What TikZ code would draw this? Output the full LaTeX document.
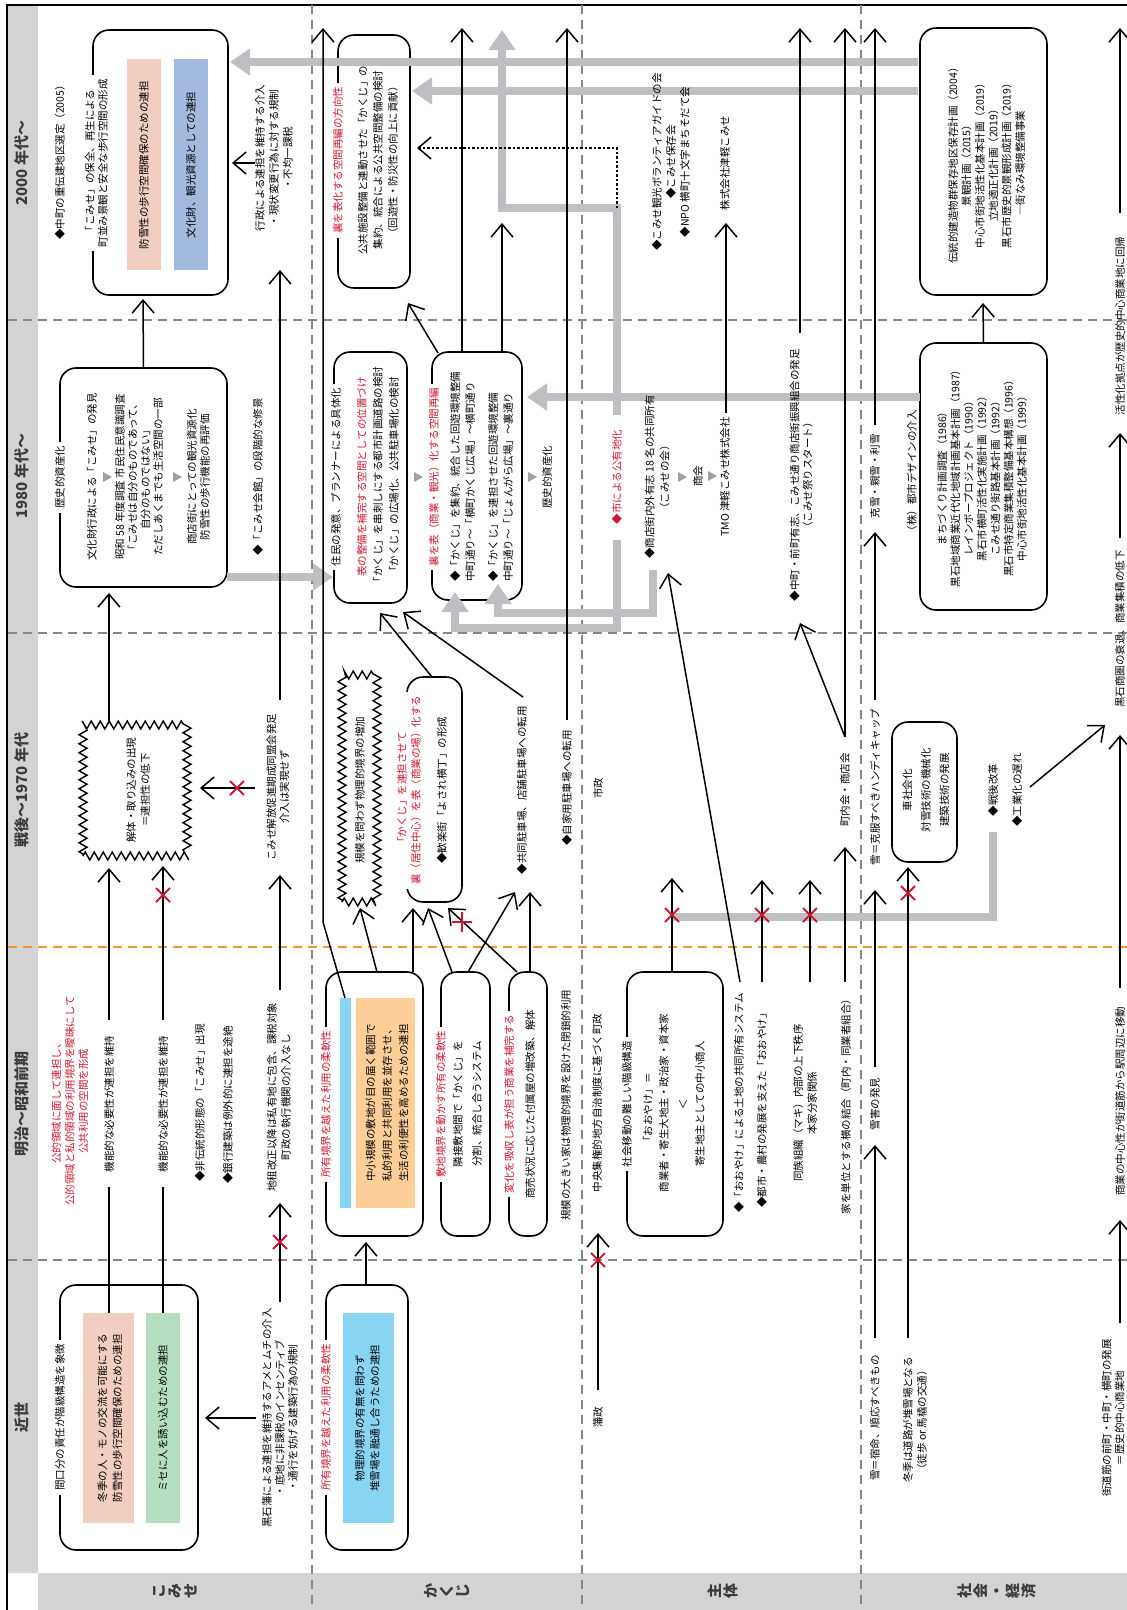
\documentclass[tikz,border=0pt]{standalone}
\usepackage{fontspec}
\setmainfont{Noto Sans CJK JP}
\usetikzlibrary{arrows.meta,decorations.pathmorphing}
\definecolor{kred}{RGB}{206,22,48}
\definecolor{ggray}{RGB}{190,191,194}
\definecolor{hgray}{RGB}{209,211,212}
\definecolor{hdark}{RGB}{60,60,60}
\definecolor{tgray}{RGB}{160,160,162}
\definecolor{kpink}{RGB}{242,206,194}
\definecolor{kgreen}{RGB}{180,222,193}
\definecolor{kblue}{RGB}{163,185,224}
\definecolor{ksky}{RGB}{137,211,243}
\definecolor{korange}{RGB}{253,206,152}
\definecolor{dorange}{RGB}{243,152,40}
\definecolor{dgray}{RGB}{135,135,135}
\tikzset{
  xm/.pic={\draw[kred,line width=1.8pt] (-7,-7)--(7,7) (-7,7)--(7,-7);},
  tri/.pic={\fill[tgray] (-4,-5)--(5,0)--(-4,5)--cycle;}
}
\begin{document}
\begin{tikzpicture}[x=1pt,y=-1pt,
  tx/.style={rotate=90,inner sep=0pt,align=center,font=\fontsize{10.5}{#1}\selectfont},
  tx/.default=13,
  txr/.style={tx=#1,text=kred},
  txr/.default=13,
  btt/.style={tx=#1,fill=white,inner xsep=4pt,inner ysep=2pt},
  btt/.default=13,
  btr/.style={btt=#1,text=kred},
  btr/.default=13,
  bx/.style={draw,line width=1.6pt,rounded corners=16pt,inner sep=0pt},
  zz/.style={draw,line width=1.4pt,inner sep=0pt,decorate,decoration={zigzag,segment length=9pt,amplitude=4pt}},
  arr/.style={line width=1.5pt,-{Straight Barb[length=13pt,width=22pt,line width=1.5pt]}},
  ln/.style={line width=1.5pt},
  garr/.style={line width=8pt,draw=ggray,-{Triangle[length=20pt,width=26pt]}},
  gln/.style={line width=8pt,draw=ggray},
  sep/.style={line width=1.2pt,draw=dgray,dash pattern=on 9pt off 6pt},
  era/.style={rotate=90,inner sep=0pt,font=\fontsize{15}{18}\selectfont\bfseries,text=hdark},
  rowlab/.style={rotate=90,inner sep=0pt,align=center,font=\fontsize{15}{16}\selectfont\bfseries,text=hdark},
]
\useasboundingbox (0,0) rectangle (1127,1610);

% bands and frame
\fill[hgray] (8,5) rectangle (38,1573);
\fill[hgray] (38,1573) rectangle (1127,1610);
\draw[line width=1.5pt] (7,1610) -- (7,5) -- (1127,5);
\foreach \x in {312,582,861} \draw[sep] (\x,5) -- (\x,1610);
\foreach \y in {320,633,1260} \draw[sep] (8,\y) -- (1127,\y);
\draw[sep,draw=dorange] (8,947) -- (1127,947);

% era labels
\node[era] (e1) at (22,163) {2000 年代〜};
\node[era] (e2) at (22,476) {1980 年代〜};
\node[era] (e3) at (22,790) {戦後〜1970 年代};
\node[era] (e4) at (22,1104) {明治〜昭和前期};
\node[era] (e5) at (22,1417) {近世};
% row labels, set as stacked characters
\node[rowlab] (r1) at (175,1591) {こ\\み\\せ};
\node[rowlab] (r2) at (447,1591) {か\\く\\じ};
\node[rowlab] (r3) at (723,1591) {主\\体};
\node[rowlab] (r4) at (997,1591) {社\\会\\・\\経\\済};

% boxes
\node[bx,minimum width=138pt,minimum height=265pt] (kA) at (129,1417.5) {};
\node[bx,minimum width=167pt,minimum height=219pt] (kB) at (143.5,477.5) {};
\node[bx,minimum width=135pt,minimum height=265pt] (kC) at (160.5,162.5) {};
\node[bx,minimum width=82pt,minimum height=265pt] (jA) at (367,1417.5) {};
\node[bx,minimum width=97pt,minimum height=264pt] (jB) at (374.5,1104) {};
\node[bx,minimum width=49pt,minimum height=264pt] (jC) at (465.5,1104) {};
\node[bx,minimum width=38pt,minimum height=264pt] (jD) at (528,1104) {};
\node[bx,minimum width=55pt,minimum height=225pt] (jE) at (434.5,789.5) {};
\node[bx,minimum width=73pt,minimum height=251pt] (jF) at (370.5,477.5) {};
\node[bx,minimum width=90pt,minimum height=248pt] (jG) at (477,476) {};
\node[bx,minimum width=72pt,minimum height=253pt] (jH) at (374,161.5) {};
\node[bx,minimum width=96pt,minimum height=264pt] (sA) at (675,1104) {};
\node[bx,minimum width=65pt,minimum height=140pt] (cA) at (924.5,792) {};
\node[bx,minimum width=127pt,minimum height=267pt] (cB) at (983.5,476.5) {};
\node[bx,minimum width=127pt,minimum height=267pt] (cC) at (983.5,161.5) {};
\node[zz,minimum width=104pt,minimum height=131pt] (kJ) at (135,790.5) {};
\node[zz,minimum width=35pt,minimum height=227pt] (jJ) at (359.5,788.5) {};

% coloured bands inside boxes
\node[fill=kpink,minimum width=51pt,minimum height=210pt,inner sep=0pt] (kAp) at (108.5,1418) {};
\node[fill=kgreen,minimum width=34pt,minimum height=210pt,inner sep=0pt] (kAg) at (163,1418) {};
\node[fill=kpink,minimum width=34pt,minimum height=211pt,inner sep=0pt] (kCp) at (144,164.5) {};
\node[fill=kblue,minimum width=34pt,minimum height=211pt,inner sep=0pt] (kCb) at (191,164.5) {};
\node[fill=ksky,minimum width=51pt,minimum height=210pt,inner sep=0pt] (jAs) at (368.5,1418) {};
\node[fill=ksky,minimum width=11pt,minimum height=210pt,inner sep=0pt] (jBs) at (345.5,1103) {};
\node[fill=korange,minimum width=59pt,minimum height=210pt,inner sep=0pt] (jBo) at (385.5,1103) {};

% grey flows
\draw[garr] (227,577) -- (333,577);
\draw[garr] (617,540) -- (617,628) -- (455,628) -- (455,592);
\draw[garr] (653,570) -- (653,613) -- (498,613) -- (498,584);
\draw[garr] (920,397) -- (527,397);
\draw[garr] (617,415) -- (617,208) -- (502,208) -- (502,30);
\draw[garr] (918,62) -- (230,62);
\draw[garr] (918,91) -- (412,91);
\draw[gln] (672,917) -- (993,917) -- (993,832);
\draw[line width=1.3pt,dash pattern=on 2.5pt off 2pt,-{Straight Barb[length=13pt,width=22pt,line width=1.5pt]}] (617,208) -- (617,148) -- (417,148);

% connectors: komise
\draw[arr] (256,1418) -- (205,1418);
\draw[arr] (280,1302) -- (280,1203);
\draw[ln] (109,1313) -- (109,1187);
\draw[ln] (163,1313) -- (163,1187);
\draw[arr] (109,1020) -- (109,868);
\draw[arr] (163,1020) -- (163,866);
\draw[arr] (280,990) -- (280,875);
\draw[arr] (255,788) -- (200,788);
\draw[arr] (109,721) -- (109,593);
\draw[arr] (280,700) -- (280,270);
\draw[arr] (kB.north) -- (143,299);
\draw[arr] (255,163) -- (232,163);

% connectors: kakuji
\draw[arr] (366,1285) -- (366,1242);
\draw[arr] (345,998) -- (323,922) -- (323,28);
\draw[arr] (377,972) -- (360,908);
\draw[arr] (413,972) -- (413,908);
\draw[arr] (452,972) -- (428,908);
\draw[arr] (468,972) -- (515,892);
\draw[arr] (517,972) -- (448,908);
\draw[arr] (530,972) -- (530,892);
\draw[arr] (432,677) -- (380,613);
\draw[arr] (523,697) -- (403,612);
\draw[arr] (567,720) -- (567,28);
\draw[arr] (438,353) -- (408,303);
\draw[arr] (462,352) -- (462,28);
\draw[arr] (502,352) -- (502,223);

% connectors: actors
\draw[arr] (598,1390) -- (598,1233);
\draw[arr] (672,972) -- (672,878);
\draw[arr] (740,982) -- (668,573);
\draw[arr] (762,982) -- (762,880);
\draw[arr] (810,982) -- (810,880);
\draw[arr] (845,982) -- (845,847);
\draw[arr] (845,737) -- (845,28);
\draw[arr] (845,737) -- (800,623);
\draw[arr] (726,413) -- (726,223);
\draw[arr] (800,333) -- (800,28);

% connectors: society
\draw[arr] (875,1338) -- (875,1145);
\draw[arr] (908,1338) -- (908,867);
\draw[arr] (1120,1323) -- (1120,1220);
\draw[arr] (875,1067) -- (875,890);
\draw[arr] (1120,988) -- (1120,735);
\draw[arr] (875,700) -- (875,532);
\draw[arr] (1030,787) -- (1105,725);
\draw[arr] (1120,538) -- (1120,433);
\draw[arr] (875,425) -- (875,28);
\draw[arr] (cB.north) -- (983,303);
\draw[arr] (1120,213) -- (1120,28);

% broken links
\pic at (280,1242) {xm};
\pic at (163,895) {xm};
\pic at (237,788) {xm};
\pic[rotate=45] at (462,922) {xm};
\pic at (598,1260) {xm};
\pic at (672,915) {xm};
\pic at (762,915) {xm};
\pic at (810,915) {xm};
\pic at (908,893) {xm};

% flow marks
\pic at (107,477) {tri};
\pic at (177,477) {tri};
\pic at (418,477) {tri};
\pic at (532,477) {tri};
\pic at (682,477) {tri};
\pic at (712,476) {tri};

% texts: komise
\node[btt] (kAt) at (60,1417) {間口分の責任が階級構造を象徴};
\node[tx=15] (kApt) at (110,1418) {冬季の人・モノの交流を可能にする\\防雪性の歩行空間確保のための連担};
\node[tx] (kAgt) at (163,1418) {ミセに人を誘い込むための連担};
\node[tx] (k2) at (280,1418) {黒石藩による連担を維持するアメとムチの介入\\・底地に非課税のインセンティブ\\・通行を妨げる建築行為の規制};
\node[txr=13.5] (k3) at (70,1101) {公的領域に面して連担し、\\公的領域と私的領域の利用境界を曖昧にして\\公共利用の空間を形成};
\node[tx] (k4a) at (109,1104) {機能的な必要性が連担を維持};
\node[tx] (k4b) at (163,1104) {機能的な必要性が連担を維持};
\node[tx] (k5) at (200,1103) {◆非伝統的形態の「こみせ」出現};
\node[tx] (k6) at (228,1105) {◆銀行建築は例外的に連担を途絶};
\node[tx=14] (k7) at (279,1097) {地租改正以降は私有地に包含、課税対象\\町政の執行機関の介入なし};
\node[tx=14] (kJt) at (138,790) {解体・取り込みの出現\\＝連担性の低下};
\node[tx] (k8) at (278,787) {こみせ解放促進期成同盟会発足\\介入は実現せず};
\node[btt] (kBt) at (60,477) {歴史的資産化};
\node[tx] (kB1) at (92,477) {文化財行政による「こみせ」の発見};
\node[tx=12.7] (kB2) at (139,477) {昭和 58 年度調査 市民住民意識調査\\「こみせは自分のものであって、\\自分のものではない」\\ただしあくまでも生活空間の一部};
\node[tx] (kB3) at (198.5,477) {商店街にとっての観光資源化\\防雪性の歩行機能の再評価};
\node[tx] (k9) at (258,477) {◆「こみせ会館」の段階的な修景};
\node[btt] (kCt) at (96.5,163) {「こみせ」の保全、再生による\\町並み景観と安全な歩行空間の形成};
\node[tx] (k10) at (60,160) {◆中町の重伝建地区選定（2005）};
\node[tx] (kCpt) at (144,165) {防雪性の歩行空間確保のための連担};
\node[tx] (kCbt) at (191,165) {文化財、観光資源としての連担};
\node[tx=14] (k11) at (274,158) {行政による連担を維持する介入\\・現状変更行為に対する規制\\・不均一課税};

% texts: kakuji
\node[btr] (jAt) at (326,1417) {所有境界を越えた利用の柔軟性};
\node[tx=15] (jAst) at (367.5,1418) {物理的境界の有無を問わず\\堆雪場を融通し合うための連担};
\node[btr] (jBt) at (326,1104) {所有境界を越えた利用の柔軟性};
\node[tx=16.5] (jBot) at (387,1103) {中小規模の敷地が目の届く範囲で\\私的利用と共同利用を並存させ、\\生活の利便性を高めるための連担};
\node[btr] (jCt) at (441,1104) {敷地境界を動かす所有の柔軟性};
\node[tx=19] (jC1) at (467.5,1104) {隣接敷地間で「かくじ」を\\分割、統合し合うシステム};
\node[btr] (jDt) at (509,1104) {変化を吸収し表が担う商業を補完する};
\node[tx] (jD1) at (530,1104) {商売状況に応じた付属屋の増改築、解体};
\node[tx] (j5) at (566,1105) {規模の大きい家は物理的境界を設けた閉鎖的利用};
\node[tx] (jJt) at (360,790) {規模を問わず物理的境界の増加};
\node[btr=14] (jEt) at (409,790) {「かくじ」を連担させて\\裏（居住中心）を表（商業の場）化する};
\node[tx] (jE1) at (442,790) {◆歓楽街「よされ横丁」の形成};
\node[tx] (j6) at (522,790) {◆共同駐車場、店舗駐車場への転用};
\node[tx] (j7) at (567,788) {◆自家用駐車場への転用};
\node[btt] (jFt) at (336,477) {住民の発意、プランナーによる具体化};
\node[txr] (jF1) at (362,477) {表の整備を補完する空間としての位置づけ};
\node[tx] (jF2) at (378,477) {「かくじ」を串刺しにする都市計画道路の検討};
\node[tx] (jF3) at (394,477) {「かくじ」の広場化、公共駐車場化の検討};
\node[btr] (jGt) at (434,477) {裏を表（商業・観光）化する空間再編};
\node[tx=15,align=left,anchor=west] (jG1) at (462.5,582) {◆「かくじ」を集約、統合した回遊環境整備\\中町通り〜「横町かくじ広場」〜横町通り};
\node[tx=15,align=left,anchor=west] (jG2) at (500.5,582) {◆「かくじ」を連担させた回遊環境整備\\中町通り〜「じょんがら広場」〜裏通り};
\node[tx] (j8) at (547,477) {歴史的資産化};
\node[btr] (jHt) at (338,160) {裏を表化する空間再編の方向性};
\node[tx=15] (jH1) at (378,160) {公共施設整備と連動させた「かくじ」の\\集約、統合による公共空間整備の検討\\（回遊性・防災性の向上に貢献）};

% texts: actors
\node[tx] (s1) at (598,1417) {藩政};
\node[tx] (s2) at (597,1103) {中央集権的地方自治制度に基づく町政};
\node[btt] (sAt) at (627,1104) {社会移動の難しい階級構造};
\node[tx] (sA1) at (648,1110) {「おおやけ」＝};
\node[tx] (sA2) at (664,1103) {商業者・寄生大地主・政治家・資本家};
\node[inner sep=0pt,font=\fontsize{10.5}{13}\selectfont] (sA3) at (683,1105) {∨};
\node[tx] (sA4) at (700,1104) {寄生地主としての中小商人};
\node[tx] (s3) at (739,1103) {◆「おおやけ」による土地の共同所有システム};
\node[tx] (s4) at (762,1108) {◆都市・農村の発展を支えた「おおやけ」};
\node[tx=14] (s5) at (805,1103) {同族組織（マキ）内部の上下秩序\\本家分家関係};
\node[tx] (s6) at (846,1104) {家を単位とする横の結合（町内・同業者組合）};
\node[tx] (s7) at (598,788) {市政};
\node[tx] (s8) at (845,790) {町内会・商店会};
\node[txr] (s9) at (617,477) {◆市による公有地化};
\node[tx=15] (s10) at (657,477) {◆商店街内外有志 18 名の共同所有\\（こみせの会）};
\node[tx] (s11) at (698,476) {商会};
\node[tx] (s12) at (725,477) {TMO 津軽こみせ株式会社};
\node[tx] (s13) at (801,475) {◆中町・前町有志、こみせ通り商店街振興組合の発足\\（こみせ祭りスタート）};
\node[tx=14] (s14) at (671,162) {◆こみせ観光ボランティアガイドの会\\◆こみせ保存会\\◆NPO 横町十文字まちそだて会};
\node[tx] (s15) at (725,163) {株式会社津軽こみせ};

% texts: society and economy
\node[tx] (c1) at (875,1418) {雪＝宿命、順応すべきもの};
\node[tx=14] (c2) at (915,1420) {冬季は道路が堆雪場となる\\（徒歩 or 馬橇の交通）};
\node[tx] (c3) at (1113,1418) {街道筋の前町・中町・横町の発展\\＝歴史的中心商業地};
\node[tx] (c4) at (875,1104) {雪害の発見};
\node[tx] (c5) at (1120,1101) {商業の中心性が街道筋から駅周辺に移動};
\node[tx] (c6) at (875,787) {雪＝克服すべきハンディキャップ};
\node[tx=18.5] (cA1) at (926,790) {車社会化\\対雪技術の機械化\\建築技術の発展};
\node[tx=24] (c7) at (1005,790) {◆戦後改革\\◆工業化の遅れ};
\node[tx] (c8) at (1120,629) {黒石商圏の衰退、商業集積の低下};
\node[tx] (c9) at (875,476) {克雪・親雪・利雪};
\node[tx] (c10) at (912,473) {（株）都市デザインの介入};
\node[tx=13.3] (cB1) at (982,476) {まちづくり計画調査（1986）\\黒石地域商業近代化地域計画基本計画（1987）\\レインボープロジェクト（1990）\\黒石市横町活性化実施計画（1992）\\こみせ通り街路基本計画（1992）\\黒石市特定商業集積整備基本構想（1996）\\中心市街地活性化基本計画（1999）};
\node[tx] (c11) at (1120,326) {活性化拠点が歴史的中心商業地に回帰};
\node[tx=13.4] (cC1) at (986.5,163) {伝統的建造物群保存地区保存計画（2004）\\景観計画（2015）\\中心市街地活性化基本計画（2019）\\立地適正化計画（2019）\\黒石市歴史的景観形成計画（2019）\\―街なみ環境整備事業};
\end{tikzpicture}
\end{document}
